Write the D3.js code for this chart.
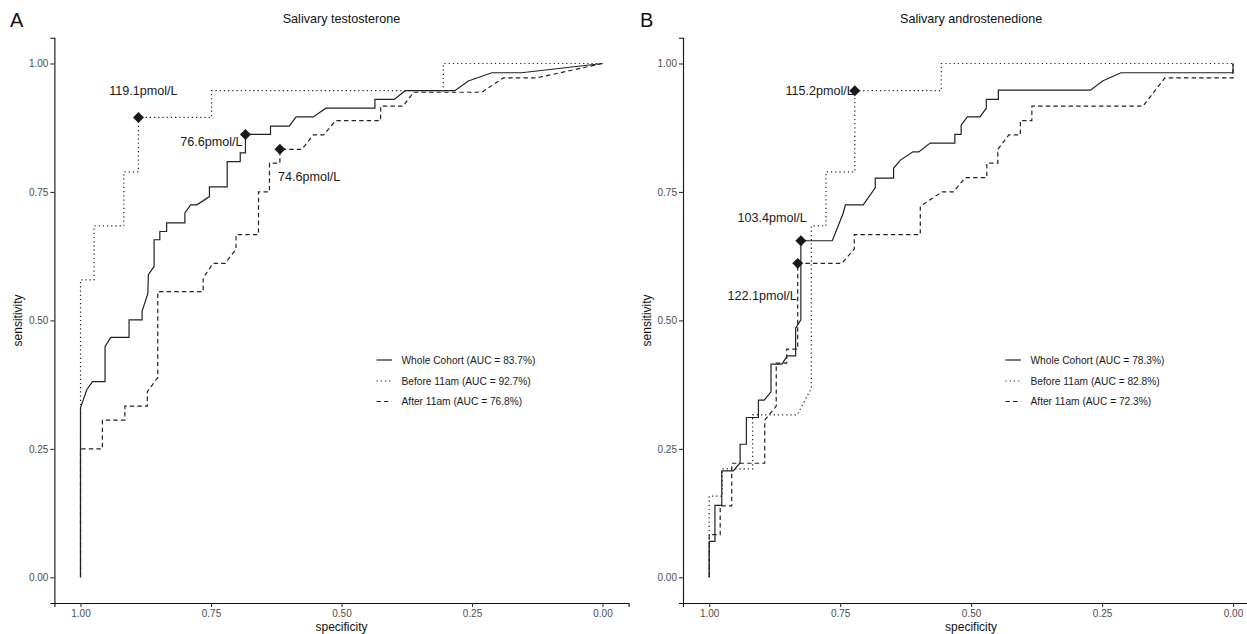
<!DOCTYPE html>
<html><head><meta charset="utf-8">
<script src="https://cdn.jsdelivr.net/npm/d3@7"></script>
<style>
body{margin:0;background:#fff;}
text{font-family:"Liberation Sans",Arial,Helvetica,sans-serif;}
</style></head>
<body><svg id="chart" width="1247" height="634"></svg>
<script>
// ---------- data ----------
const tickValues = [1.00, 0.75, 0.50, 0.25, 0.00];
const seriesNames = ["Whole Cohort", "Before 11am", "After 11am"];
const panelTitles = ["Salivary testosterone", "Salivary androstenedione"];
const panelLetters = ["A", "B"];

const aucA = ["83.7%", "92.7%", "76.8%"];
const aucB = ["78.3%", "82.8%", "72.3%"];

// Panel A - Salivary testosterone
const specA_whole = [1,1,0.988,0.977,0.953,0.953,0.942,0.907,0.907,0.882,0.882,0.871,0.870,0.859,0.859,0.848,0.848,0.835,0.835,0.800,0.800,0.789,0.777,0.753,0.753,0.719,0.719,0.694,0.694,0.684,0.684,0.636,0.636,0.600,0.587,0.554,0.530,0.436,0.436,0.399,0.378,0.283,0.257,0.212,0.155,0];
const sensA_whole = [0,0.330,0.365,0.381,0.381,0.449,0.467,0.467,0.501,0.501,0.518,0.552,0.589,0.605,0.657,0.657,0.673,0.673,0.690,0.690,0.709,0.725,0.725,0.741,0.760,0.760,0.809,0.809,0.826,0.826,0.862,0.862,0.878,0.878,0.896,0.896,0.913,0.913,0.930,0.930,0.947,0.947,0.966,0.982,0.982,1];
const specA_before = [1,1,0.974,0.974,0.917,0.917,0.889,0.889,0.749,0.749,0.305,0.305,0];
const sensA_before = [0,0.579,0.579,0.684,0.684,0.789,0.789,0.895,0.895,0.947,0.947,1,1];
const specA_after = [1,1,0.958,0.958,0.915,0.915,0.872,0.872,0.852,0.852,0.765,0.765,0.746,0.723,0.702,0.702,0.659,0.659,0.638,0.638,0.618,0.618,0.576,0.554,0.534,0.511,0.425,0.425,0.382,0.362,0.231,0.190,0.126,0];
const sensA_after = [0,0.250,0.250,0.306,0.306,0.333,0.333,0.361,0.389,0.556,0.556,0.583,0.611,0.611,0.639,0.667,0.667,0.750,0.750,0.806,0.806,0.833,0.833,0.861,0.861,0.889,0.889,0.917,0.917,0.944,0.944,0.972,0.972,1];

// Panel B - Salivary androstenedione
const specB_whole = [1,1,0.989,0.989,0.976,0.976,0.954,0.941,0.941,0.929,0.929,0.906,0.906,0.895,0.882,0.882,0.861,0.851,0.835,0.835,0.825,0.825,0.765,0.744,0.740,0.706,0.683,0.683,0.648,0.648,0.635,0.611,0.600,0.578,0.531,0.531,0.519,0.519,0.507,0.483,0.471,0.471,0.448,0.448,0.272,0.249,0.214,0,0];
const sensB_whole = [0,0.070,0.070,0.140,0.140,0.207,0.207,0.223,0.259,0.259,0.311,0.311,0.345,0.345,0.361,0.415,0.415,0.431,0.431,0.485,0.501,0.655,0.655,0.709,0.725,0.725,0.758,0.777,0.777,0.796,0.812,0.828,0.828,0.845,0.845,0.862,0.862,0.880,0.896,0.896,0.913,0.930,0.930,0.948,0.948,0.966,0.982,0.982,1];
const specB_before = [1,1,0.975,0.975,0.917,0.917,0.832,0.805,0.805,0.777,0.777,0.722,0.722,0.557,0.557,0];
const sensB_before = [0,0.158,0.158,0.211,0.211,0.316,0.316,0.368,0.684,0.684,0.789,0.789,0.947,0.947,1,1];
const specB_after = [1,1,0.979,0.979,0.957,0.957,0.894,0.894,0.872,0.872,0.852,0.852,0.831,0.831,0.747,0.723,0.723,0.597,0.597,0.556,0.534,0.511,0.470,0.470,0.449,0.449,0.428,0.406,0.406,0.384,0.384,0.172,0.130,0,0];
const sensB_after = [0,0.083,0.083,0.139,0.139,0.222,0.222,0.306,0.333,0.417,0.417,0.444,0.444,0.611,0.611,0.639,0.667,0.667,0.722,0.750,0.750,0.778,0.778,0.806,0.806,0.833,0.861,0.861,0.889,0.889,0.917,0.917,0.972,0.972,1];

// best thresholds (specificity, sensitivity, label)
const thrSpecA = [0.684, 0.889, 0.618];
const thrSensA = [0.862, 0.895, 0.833];
const thrLabelA = ["76.6pmol/L", "119.1pmol/L", "74.6pmol/L"];
const thrSpecB = [0.825, 0.722, 0.831];
const thrSensB = [0.655, 0.947, 0.611];
const thrLabelB = ["103.4pmol/L", "115.2pmol/L", "122.1pmol/L"];

// ---------- styles / layout ----------
const lineColor = "#222";
const dashes = [null, "1.2,3", "4.4,3.2"];
const labelPlacement = {
  A: [{anchor:"end", dx:-3, dy:7}, {anchor:"middle", dx:5, dy:-27}, {anchor:"start", dx:-2, dy:27}],
  B: [{anchor:"end", dx:6, dy:-23}, {anchor:"end", dx:-1, dy:0}, {anchor:"end", dx:-1, dy:32}]
};

const svg = d3.select("#chart");
const yScale = d3.scaleLinear().domain([-0.05, 1.05]).range([603, 37.8]);

const panels = [
  {key:"A", left:54.4, right:628.6, letterX:10,
   specs:[specA_whole, specA_before, specA_after], sens:[sensA_whole, sensA_before, sensA_after],
   auc:aucA, thrSpec:thrSpecA, thrSens:thrSensA, thrLabel:thrLabelA, legendX:376.5, ylabX:18},
  {key:"B", left:683, right:1259.2, letterX:640,
   specs:[specB_whole, specB_before, specB_after], sens:[sensB_whole, sensB_before, sensB_after],
   auc:aucB, thrSpec:thrSpecB, thrSens:thrSensB, thrLabel:thrLabelB, legendX:1005.5, ylabX:647}
];

panels.forEach((p, pi) => {
  const x = d3.scaleLinear().domain([1.05, -0.05]).range([p.left, p.right]);
  const g = svg.append("g");

  // axes
  const xAxis = d3.axisBottom(x).tickValues(tickValues).tickFormat(d3.format(".2f")).tickSizeOuter(0).tickSize(4).tickPadding(2.5);
  const yAxis = d3.axisLeft(yScale).tickValues(tickValues).tickFormat(d3.format(".2f")).tickSizeOuter(0).tickSize(4).tickPadding(2);
  const gx = g.append("g").attr("transform", `translate(0,${yScale.range()[0]})`).call(xAxis);
  const gy = g.append("g").attr("transform", `translate(${p.left},0)`).call(yAxis);
  [gx, gy].forEach(a => {
    a.select(".domain").attr("stroke", "#111").attr("stroke-width", 1.1);
    a.selectAll(".tick line").attr("stroke", "#333").attr("stroke-width", 1.1);
    a.selectAll(".tick text").attr("fill", "#4d4d4d").style("font-size", "10px").style("font-family", "Liberation Sans, Arial, sans-serif");
  });

  // curves
  const line = d3.line().x(d => x(d[0])).y(d => yScale(d[1]));
  p.specs.forEach((sp, si) => {
    const pts = sp.map((s, i) => [s, p.sens[si][i]]);
    g.append("path").datum(pts).attr("d", line)
      .attr("fill", "none").attr("stroke", lineColor).attr("stroke-width", 1.2)
      .attr("stroke-dasharray", dashes[si]);
  });

  // threshold diamonds + labels
  const diamond = d3.symbol().type(d3.symbolSquare).size(60);
  p.thrSpec.forEach((s, i) => {
    const cx = x(s), cy = yScale(p.thrSens[i]);
    g.append("path").attr("d", diamond()).attr("fill", "#1a1a1a")
      .attr("transform", `translate(${cx},${cy}) rotate(45)`);
    const pl = labelPlacement[p.key][i];
    g.append("text").attr("x", cx + pl.dx).attr("y", cy + pl.dy).attr("dy", "0.35em")
      .attr("text-anchor", pl.anchor).attr("fill", "#1a1a1a").style("font-size", "12.6px")
      .text(p.thrLabel[i]);
  });

  // legend
  const legY = [360, 381, 401.5];
  seriesNames.forEach((n, i) => {
    g.append("line").attr("x1", p.legendX).attr("x2", p.legendX + 15.5).attr("y1", legY[i]).attr("y2", legY[i])
      .attr("stroke", lineColor).attr("stroke-width", 1.2).attr("stroke-dasharray", dashes[i]);
    g.append("text").attr("x", p.legendX + 25).attr("y", legY[i]).attr("dy", "0.35em")
      .attr("fill", "#1a1a1a").style("font-size", "10.2px")
      .text(`${n} (AUC = ${p.auc[i]})`);
  });

  // titles
  const midX = (x(1.05) + x(-0.05)) / 2;
  g.append("text").attr("x", midX).attr("y", 23).attr("text-anchor", "middle")
    .style("font-size", "12.6px").attr("fill", "#111").text(panelTitles[pi]);
  g.append("text").attr("x", p.letterX).attr("y", 27).style("font-size", "20px").attr("fill", "#111").text(panelLetters[pi]);
  g.append("text").attr("x", midX).attr("y", 631).attr("text-anchor", "middle")
    .style("font-size", "12px").attr("fill", "#111").text("specificity");
  g.append("text").attr("transform", `translate(${p.ylabX},${yScale(0.5)}) rotate(-90)`).attr("dy", "0.35em")
    .attr("text-anchor", "middle").style("font-size", "12px").attr("fill", "#111").text("sensitivity");
});
</script></body></html>
